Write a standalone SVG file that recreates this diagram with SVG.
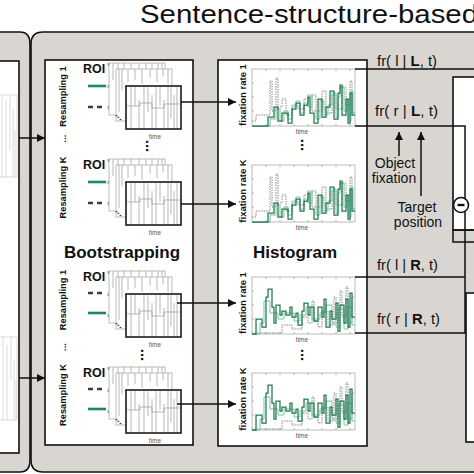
<svg xmlns="http://www.w3.org/2000/svg" xmlns:xlink="http://www.w3.org/1999/xlink" width="474" height="474" viewBox="0 0 474 474">
<style>
text{font-family:"Liberation Sans",Arial,sans-serif;fill:#111}
.b{font-weight:bold}
.ln{stroke:#111;stroke-width:1.5;fill:none}
.box{fill:#fff;stroke:#111;stroke-width:1.6}
.gf{fill:#fff;stroke:#aaa;stroke-width:0.8}
.rl{stroke:#999;stroke-width:0.7;fill:none}
.gd{stroke:#8a8a8a;stroke-width:1;stroke-dasharray:1.5 1;fill:none}
.g1{stroke:#7cc3a0;stroke-width:1;fill:none}
.g2{stroke:#1d7a52;stroke-width:1.25;fill:none}
.grn{stroke:#1a8a5c;stroke-width:2.6}
.nav{stroke:#2c3a6e;stroke-width:2.6;stroke-dasharray:5 4}
.tm{font-size:6.5px;fill:#555}
.tk{font-size:4px;fill:#333}
.fr{font-size:14px}
</style>
<defs>
<marker id="ah" markerUnits="userSpaceOnUse" markerWidth="9" markerHeight="8" refX="8" refY="4" orient="auto">
<path d="M0,0 L8,4 L0,8 z" fill="#111"/>
</marker>
<g id="stack">
<rect class="gf" x="109" y="63" width="56" height="52"/>
<path class="rl" d="M113,63V80M118,63V72M124,63V76M131,63V82M139,63V70M146,63V78M152,63V74M158,63V80M162,63V72"/>
<rect class="gf" x="116" y="69" width="56" height="52"/>
<path class="rl" d="M119,69V112M122,69V90M128,69V82M135,69V80M142,69V84M150,69V78M157,69V82M163,69V76M168,69V84"/>
<rect x="126" y="86" width="55" height="43" fill="#fff" stroke="#1a1a1a" stroke-width="1.6"/>
<path class="rl" d="M131,87V128M135,87V106M139,100V128M144,87V128M148,87V112M152,95V128M156,87V128M160,87V106M164,100V128M168,87V128M171,87V118M174,95V128M177,87V128"/>
<path class="rl" d="M127,106H140V103H152V108H164V104H180"/>
<text class="tk" x="107" y="66">3</text>
<text class="tk" x="107" y="88">2</text>
<text class="tk" x="107" y="109">1</text>
<text class="b" x="83" y="73" font-size="12.5">ROI</text>
<text class="b" font-size="9" transform="translate(118,118) rotate(45)" text-anchor="middle">...</text>
<text class="tm" x="155" y="139" text-anchor="middle">time</text>
</g>
<g id="chartA">
<rect class="gf" stroke="#999" width="103" height="57"/>
<path class="rl" d="M14,57v-2M28,57v-2M42,57v-2M56,57v-2M70,57v-2M84,57v-2M98,57v-2M14,0v2M28,0v2M42,0v2M56,0v2M70,0v2M84,0v2M98,0v2M0,14h2M0,28h2M0,42h2"/>
<path class="gd" d="M0,52H4V46H18V12H20V42H24V9H26V38H30V30H34V46H40V36H46V40H52V30H56V38H60V26H64V42H70V22H74V44H80V26H84V40H90V18H94V36H98V12H100V44H103"/>
<path class="g1" d="M0,57H18V50H24V40H28V52H32V42H36V50H40V38H44V32H48V44H52V34H56V26H60V42H64V50H68V32H72V46H76V36H80V24H84V48H86V28H88V18H92V42H95V30H97V52H99V22H101V44H103"/>
<path class="g2" d="M0,57H16V48H22V38H26V52H30V44H36V54H40V40H44V34H48V46H52V36H56V28H58V44H62V54H66V30H70V48H74V38H78V22H82V50H86V24H88V16H90V46H94V30H96V54H98V24H100V46H103"/>
</g>
<g id="chartB">
<rect class="gf" stroke="#999" width="103" height="57"/>
<path class="rl" d="M14,57v-2M28,57v-2M42,57v-2M56,57v-2M70,57v-2M84,57v-2M98,57v-2M14,0v2M28,0v2M42,0v2M56,0v2M70,0v2M84,0v2M98,0v2M0,14h2M0,28h2M0,42h2"/>
<path class="gd" d="M0,56H30V48H40V52H50V40H56V46H60V24H62V44H66V50H70V34H76V48H82V20H84V50H88V14H90V40H94V10H96V46H100V20H103"/>
<path class="g1" d="M0,57H8V46H12V24H18V36H26V42H32V36H42V44H48V38H54V30H60V42H68V36H74V28H80V46H86V32H92V52H96V30H100V48H103"/>
<path class="g2" d="M0,57H4V42H10V50H14V20H16V12H20V30H22V46H24V28H28V38H30V34H34V38H38V30H40V40H44V36H46V48H50V34H52V26H56V38H58V30H62V44H66V30H70V40H72V22H74V50H78V34H80V42H84V26H86V54H88V28H92V46H94V22H96V50H98V16H100V40H103"/>
</g>
</defs>

<rect width="474" height="474" fill="#fff"/>
<text x="140" y="23" font-size="26" textLength="338" lengthAdjust="spacingAndGlyphs">Sentence-structure-based</text>

<g id="left-panel">
<path d="M-5,32H20Q30,32 30,44V460Q30,472 20,472H-5Z" fill="#d9d6d2" stroke="#111" stroke-width="1.6"/>
<rect class="box" x="-5" y="61" width="24" height="392"/>
<g stroke="#ccc" stroke-width="0.7" fill="none">
<path d="M-5,95H17V177H-5M2,95V177M6,100V177M10,95V150M13,110V177M15,130V177"/>
<path d="M-5,337H17V420H-5M3,337V420M7,345V420M11,337V380M14,360V420M16,380V420"/>
</g>
</g>

<g id="main-panel">
<path d="M31,44Q31,32 43,32H480V472H43Q31,472 31,460Z" fill="#d9d6d2" stroke="#111" stroke-width="1.6"/>
</g>

<g id="bootstrapping">
<rect class="box" x="45" y="60" width="148" height="385"/>
<text class="b" x="122" y="258" font-size="17" text-anchor="middle">Bootstrapping</text>
<g class="b" font-size="9.3" text-anchor="middle">
<text transform="translate(66,96.5) rotate(-90)">Resampling 1</text>
<text transform="translate(66,138.5) rotate(-90)">...</text>
<text transform="translate(66,187.5) rotate(-90)">Resampling K</text>
<text transform="translate(66,300) rotate(-90)">Resampling 1</text>
<text transform="translate(66,347) rotate(-90)">...</text>
<text transform="translate(66,395) rotate(-90)">Resampling K</text>
</g>
<g id="boot-1"><use xlink:href="#stack"/>
<line class="grn" x1="88" y1="86" x2="106" y2="86"/><line class="nav" x1="88" y1="107" x2="106" y2="107"/></g>
<g id="boot-2"><use xlink:href="#stack" y="96"/>
<line class="grn" x1="88" y1="182" x2="106" y2="182"/><line class="nav" x1="88" y1="203" x2="106" y2="203"/></g>
<g id="boot-3"><use xlink:href="#stack" y="208"/>
<line class="nav" x1="88" y1="293" x2="106" y2="293"/><line class="grn" x1="88" y1="313" x2="106" y2="313"/></g>
<g id="boot-4"><use xlink:href="#stack" y="304"/>
<line class="nav" x1="88" y1="389" x2="106" y2="389"/><line class="grn" x1="88" y1="409" x2="106" y2="409"/></g>
<text class="b" font-size="15" text-anchor="middle" transform="translate(146,146) rotate(90)">...</text>
<text class="b" font-size="15" text-anchor="middle" transform="translate(141,355) rotate(90)">...</text>
</g>

<g id="histogram">
<rect class="box" x="218" y="60" width="149" height="386"/>
<text class="b" x="295" y="258" font-size="17" text-anchor="middle">Histogram</text>
<g class="b" font-size="9.5" text-anchor="middle">
<text transform="translate(246,95) rotate(-90)">fixation rate 1</text>
<text transform="translate(246,191) rotate(-90)">fixation rate K</text>
<text transform="translate(246,303) rotate(-90)">fixation rate 1</text>
<text transform="translate(246,399) rotate(-90)">fixation rate K</text>
</g>
<use xlink:href="#chartA" x="252" y="69"/>
<use xlink:href="#chartA" x="252" y="165"/>
<use xlink:href="#chartB" x="252" y="277"/>
<use xlink:href="#chartB" x="252" y="373"/>
<text class="tm" x="302" y="134" text-anchor="middle">time</text>
<text class="tm" x="302" y="230" text-anchor="middle">time</text>
<text class="tm" x="302" y="342" text-anchor="middle">time</text>
<text class="tm" x="302" y="438" text-anchor="middle">time</text>
<text class="b" font-size="15" text-anchor="middle" transform="translate(301,145) rotate(90)">...</text>
<text class="b" font-size="15" text-anchor="middle" transform="translate(301,355) rotate(90)">...</text>
</g>

<g id="right-block">
<rect class="box" x="453" y="77" width="30" height="153"/>
<rect class="ln" x="453" y="230" width="30" height="12"/>
<rect class="box" x="466" y="293" width="20" height="149"/>
</g>

<g id="connectors">
<line class="ln" x1="19" y1="138" x2="45" y2="138" marker-end="url(#ah)"/>
<line class="ln" x1="19" y1="378" x2="45" y2="378" marker-end="url(#ah)"/>
<line class="ln" x1="181" y1="102" x2="236" y2="102" marker-end="url(#ah)"/>
<line class="ln" x1="181" y1="204" x2="236" y2="204" marker-end="url(#ah)"/>
<line class="ln" x1="177" y1="303" x2="236" y2="303" marker-end="url(#ah)"/>
<line class="ln" x1="177" y1="404" x2="236" y2="404" marker-end="url(#ah)"/>
<path class="ln" d="M355,69H474M355,126H465V333H355M355,277H465"/>
<line class="ln" x1="399" y1="156" x2="399" y2="132" marker-end="url(#ah)"/>
<line class="ln" x1="421" y1="196" x2="421" y2="132" marker-end="url(#ah)"/>
</g>

<g id="minus-node">
<circle cx="461" cy="205" r="7.5" fill="#fff" stroke="#111" stroke-width="1.6"/>
<line x1="457.5" y1="205" x2="464.5" y2="205" stroke="#111" stroke-width="2.4"/>
</g>

<g id="labels" class="fr">
<text x="377" y="66" textLength="60" lengthAdjust="spacingAndGlyphs">fr( l | <tspan class="b">L</tspan>, t)</text>
<text x="375" y="116" textLength="63" lengthAdjust="spacingAndGlyphs">fr( r | <tspan class="b">L</tspan>, t)</text>
<text x="377" y="270" textLength="61" lengthAdjust="spacingAndGlyphs">fr( l | <tspan class="b">R</tspan>, t)</text>
<text x="377" y="324" textLength="63" lengthAdjust="spacingAndGlyphs">fr( r | <tspan class="b">R</tspan>, t)</text>
<text x="395" y="168" text-anchor="middle">Object</text>
<text x="394" y="183" text-anchor="middle">fixation</text>
<text x="417" y="212" text-anchor="middle">Target</text>
<text x="418" y="227" text-anchor="middle">position</text>
</g>
</svg>
